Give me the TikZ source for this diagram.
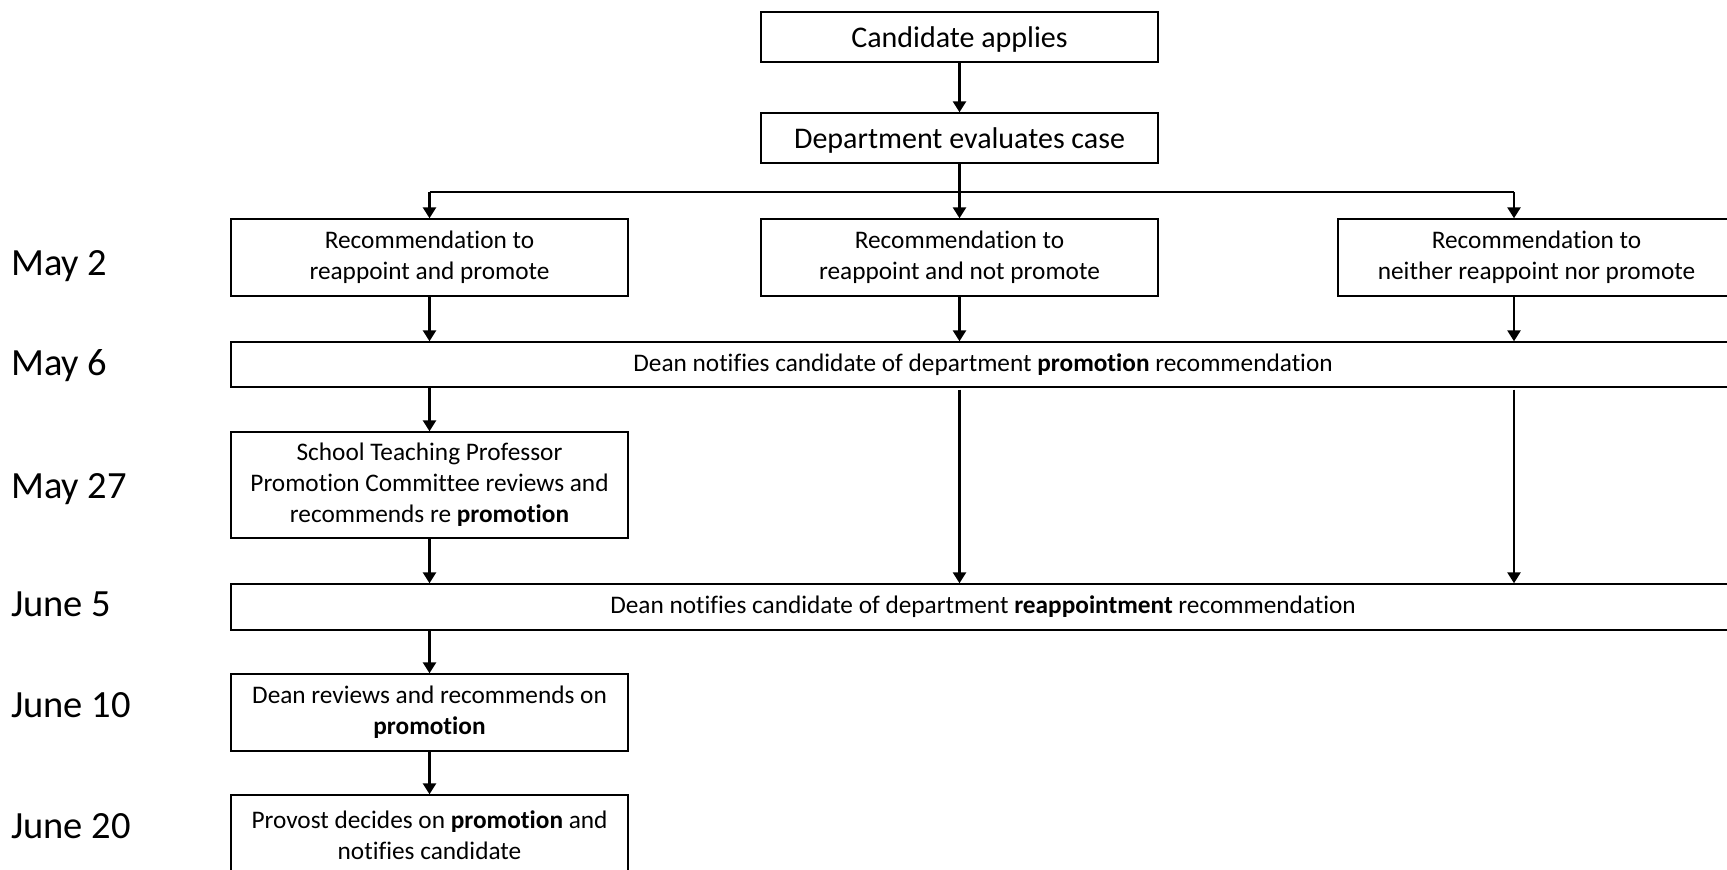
\documentclass[tikz,border=0pt]{standalone}
\usepackage{fontspec}
\setmainfont{Carlito}[Ligatures={NoCommon}]
\usetikzlibrary{arrows.meta}
\begin{document}
\begin{tikzpicture}[x=1pt,y=-1pt,
  box/.style={draw=black, line width=1.4pt, minimum width=397pt, inner sep=0pt, align=center, font=\fontsize{25.3}{31}\selectfont},
  wide/.style={box, minimum width=1504pt},
  big/.style={font=\fontsize{30}{36}\selectfont, text depth=0pt},
  arr/.style={line width=2.6pt, -{Triangle[length=11pt,width=13pt]}},
  ln/.style={line width=2.6pt},
  datelbl/.style={anchor=base west, inner sep=0pt, font=\fontsize{38.5}{42}\selectfont}]
\useasboundingbox (0,0) rectangle (1727,870);
\clip (0,0) rectangle (1727,870);
% top
\node[box, big, minimum height=50pt] (cand) at (959.5,37) {Candidate applies};
\node[box, big, minimum height=50pt] (dept) at (959.5,138) {Department evaluates case};
% recommendations
\node[box, minimum height=77pt] (recA) at (429.5,257.5) {Recommendation to\\reappoint and promote};
\node[box, minimum height=77pt] (recB) at (959.5,257.5) {Recommendation to\\reappoint and not promote};
\node[box, minimum height=77pt] (recC) at (1536.5,257.5) {Recommendation to\\neither reappoint nor promote};
% dean 1
\node[wide, minimum height=45pt] (dean1) at (983,364.5) {Dean notifies candidate of department \textbf{promotion} recommendation};
\node[box, minimum height=106pt] (school) at (429.5,485) {School Teaching Professor\\Promotion Committee reviews and\\recommends re \textbf{promotion}};
\node[wide, minimum height=46pt] (dean2) at (983,607) {Dean notifies candidate of department \textbf{reappointment} recommendation};
\node[box, minimum height=77pt] (deanrev) at (429.5,712.5) {Dean reviews and recommends on\\\textbf{promotion}};
\node[box, minimum height=80pt] (prov) at (429.5,835) {Provost decides on \textbf{promotion} and\\notifies candidate};
% dates
\node[datelbl] (d1) at (11,275) {May 2};
\node[datelbl] (d2) at (11,375) {May 6};
\node[datelbl] (d3) at (11,498) {May 27};
\node[datelbl] (d4) at (11,616) {June 5};
\node[datelbl] (d5) at (11,717) {June 10};
\node[datelbl] (d6) at (11,838) {June 20};
% connectors
\coordinate (busL) at (429.5,192);
\coordinate (busR) at (1514,192);
\draw[arr] (cand.south) -- (dept.north);
\draw[arr] (dept.south) -- (recB.north);
\draw[ln] (busL) -- (busR);
\draw[arr] (busL) -- (recA.north);
\draw[arr] (busR) -- (busR |- recC.north);
\draw[arr] (recA.south) -- (recA.south |- dean1.north);
\draw[arr] (recB.south) -- (recB.south |- dean1.north);
\draw[arr] (busR |- recC.south) -- (busR |- dean1.north);
\draw[arr] (school.north |- dean1.south) -- (school.north);
\draw[arr] ([yshift=-2pt]recB.south |- dean1.south) -- (recB.south |- dean2.north);
\draw[arr] ([yshift=-2pt]busR |- dean1.south) -- (busR |- dean2.north);
\draw[arr] (school.south) -- (school.south |- dean2.north);
\draw[arr] (deanrev.north |- dean2.south) -- (deanrev.north);
\draw[arr] (deanrev.south) -- (prov.north);
\end{tikzpicture}
\end{document}
